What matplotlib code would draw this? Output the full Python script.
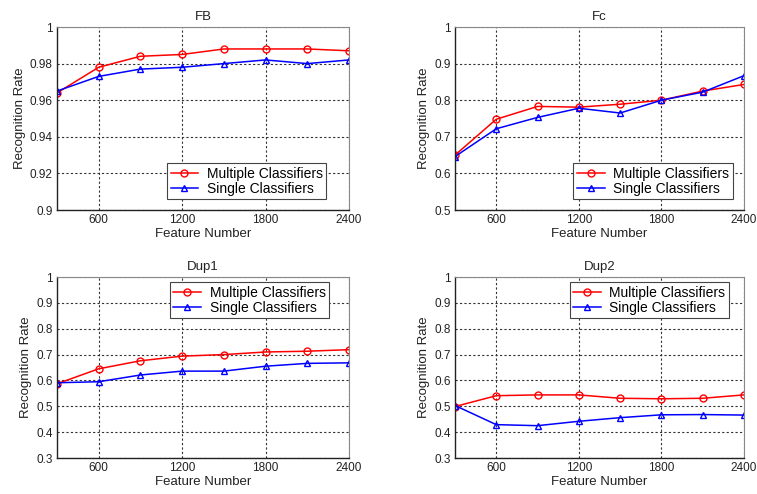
import matplotlib
matplotlib.use("Agg")
import matplotlib.pyplot as plt

plt.rcParams['font.family'] = ['Liberation Sans', 'DejaVu Sans']

feature_numbers = [300, 600, 900, 1200, 1500, 1800, 2100, 2400]
x_ticks = [600, 1200, 1800, 2400]

fb_multiple = [0.964, 0.978, 0.984, 0.985, 0.988, 0.988, 0.988, 0.987]
fb_single = [0.965, 0.973, 0.977, 0.978, 0.980, 0.982, 0.980, 0.982]

fc_multiple = [0.650, 0.748, 0.783, 0.781, 0.789, 0.800, 0.825, 0.843]
fc_single = [0.646, 0.722, 0.753, 0.778, 0.765, 0.800, 0.822, 0.867]

dup1_multiple = [0.587, 0.645, 0.676, 0.694, 0.700, 0.710, 0.713, 0.719]
dup1_single = [0.591, 0.595, 0.621, 0.636, 0.636, 0.655, 0.666, 0.668]

dup2_multiple = [0.499, 0.541, 0.544, 0.544, 0.531, 0.529, 0.531, 0.544]
dup2_single = [0.503, 0.429, 0.425, 0.442, 0.456, 0.467, 0.468, 0.466]

fb_yticks = [0.9, 0.92, 0.94, 0.96, 0.98, 1.0]
fb_ylabels = ['0.9', '0.92', '0.94', '0.96', '0.98', '1']
fc_yticks = [0.5, 0.6, 0.7, 0.8, 0.9, 1.0]
fc_ylabels = ['0.5', '0.6', '0.7', '0.8', '0.9', '1']
dup_yticks = [0.3, 0.4, 0.5, 0.6, 0.7, 0.8, 0.9, 1.0]
dup_ylabels = ['0.3', '0.4', '0.5', '0.6', '0.7', '0.8', '0.9', '1']

W, H = 757, 494
fig = plt.figure(figsize=(W / 100, H / 100), dpi=100)

def box(l, r, t, b):
    return [l / W, (H - b) / H, (r - l) / W, (b - t) / H]

panels = [
    ("FB", box(57, 349, 27, 210), fb_multiple, fb_single, (0.9, 1.0), fb_yticks, fb_ylabels, (0.377, 0.06)),
    ("Fc", box(455, 744, 27, 210), fc_multiple, fc_single, (0.5, 1.0), fc_yticks, fc_ylabels, (0.41, 0.06)),
    ("Dup1", box(57, 349, 277, 458), dup1_multiple, dup1_single, (0.3, 1.0), dup_yticks, dup_ylabels, (0.387, 0.773)),
    ("Dup2", box(455, 744, 277, 458), dup2_multiple, dup2_single, (0.3, 1.0), dup_yticks, dup_ylabels, (0.397, 0.773)),
]

for title, pos, mult, sing, ylim, yt, yl, anchor in panels:
    ax = fig.add_axes(pos)
    ax.plot(feature_numbers, mult, color='#ff0000', lw=1.1, marker='o', ms=5,
            mfc='none', mec='#ff0000', mew=1.0, label='Multiple Classifiers')
    ax.plot(feature_numbers, sing, color='#0000ff', lw=1.1, marker='^', ms=5,
            mfc='none', mec='#0000ff', mew=1.0, label='Single Classifiers')
    ax.set_xlim(300, 2400)
    ax.set_ylim(*ylim)
    ax.set_xticks(x_ticks)
    ax.set_xticklabels([str(v) for v in x_ticks])
    ax.set_yticks(yt)
    ax.set_yticklabels(yl)
    ax.grid(True, color='#333333', linestyle=(0, (2, 2)), linewidth=0.8)
    ax.set_axisbelow(True)
    ax.tick_params(labelsize=8.5, length=0, pad=3, colors='#222222')
    for s in ['left', 'bottom']:
        ax.spines[s].set_color('#222222')
        ax.spines[s].set_linewidth(1.0)
    for s in ['top', 'right']:
        ax.spines[s].set_color('#888888')
        ax.spines[s].set_linewidth(0.8)
    ax.set_title(title, fontsize=9.5, pad=5, color='#222222')
    ax.set_xlabel('Feature Number', fontsize=9.5, labelpad=1, color='#222222')
    ax.set_ylabel('Recognition Rate', fontsize=9.5, labelpad=3, color='#222222')
    leg = ax.legend(loc='lower left', bbox_to_anchor=anchor, fontsize=10,
                    fancybox=False, framealpha=1, edgecolor='#444444',
                    handlelength=2.0, borderpad=0.25, labelspacing=0.05,
                    handletextpad=0.6, borderaxespad=0)
    leg.get_frame().set_linewidth(0.8)

fig.savefig('out.png', dpi=100)
